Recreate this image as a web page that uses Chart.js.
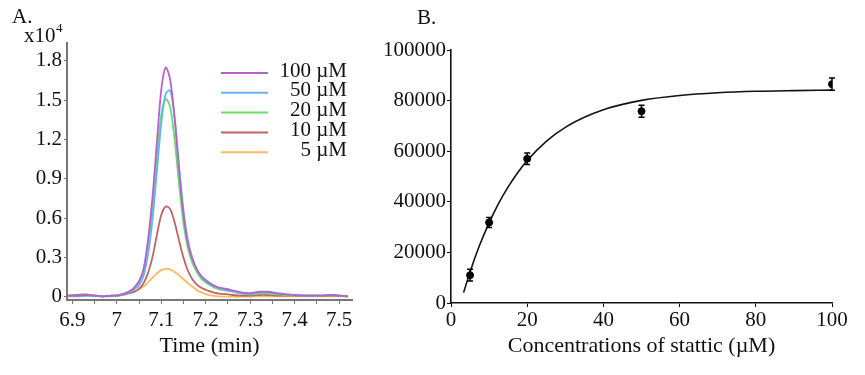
<!DOCTYPE html>
<html>
<head>
<meta charset="utf-8">
<script src="https://cdn.jsdelivr.net/npm/chart.js@4.4.1/dist/chart.umd.min.js"></script>
<style>
    html, body { margin: 0; padding: 0; background: #fff; }
    #wrap { position: relative; width: 865px; height: 375px; }
    #chartA { position: absolute; left: 0; top: 0; }
    #chartB { position: absolute; left: 375px; top: 0; }
</style>
</head>
<body>
<div id="wrap">
    <canvas id="chartA" width="375" height="375"></canvas>
    <canvas id="chartB" width="490" height="375"></canvas>
</div>
<script>
// ---- Panel A: chromatograms, intensity in x10^4 ----
const timeMin = [6.89, 6.91, 6.93, 6.95, 6.97, 6.99,
    7.00, 7.01, 7.02, 7.03, 7.04, 7.05, 7.06, 7.07, 7.08, 7.09, 7.10, 7.11, 7.12, 7.13,
    7.14, 7.15, 7.16, 7.17, 7.18, 7.19, 7.20, 7.21, 7.22, 7.23, 7.24, 7.25, 7.26,
    7.28, 7.30, 7.32, 7.34, 7.36, 7.38, 7.40, 7.42, 7.44, 7.46, 7.48, 7.50, 7.52];

const concLabels = ['100 µM', '50 µM', '20 µM', '10 µM', '5 µM'];

const int100 = [0.010, 0.010, 0.015, 0.010, 0.005, 0.010,
    0.010, 0.020, 0.030, 0.045, 0.075, 0.120, 0.210, 0.430, 0.750, 1.170, 1.580, 1.750, 1.660, 1.360,
    0.970, 0.630, 0.410, 0.290, 0.210, 0.160, 0.130, 0.105, 0.085, 0.072, 0.066, 0.060, 0.050,
    0.035, 0.030, 0.040, 0.040, 0.030, 0.020, 0.015, 0.010, 0.010, 0.010, 0.015, 0.010, 0.005];
const int50 = [0.005, 0.005, 0.010, 0.010, 0.005, 0.005,
    0.010, 0.015, 0.025, 0.035, 0.060, 0.090, 0.160, 0.320, 0.580, 0.950, 1.320, 1.550, 1.575, 1.380,
    1.000, 0.660, 0.430, 0.300, 0.210, 0.155, 0.120, 0.095, 0.080, 0.067, 0.060, 0.050, 0.045,
    0.030, 0.025, 0.035, 0.035, 0.025, 0.020, 0.015, 0.010, 0.010, 0.010, 0.015, 0.010, 0.005];
const int20 = [0.010, 0.010, 0.010, 0.010, 0.005, 0.010,
    0.010, 0.020, 0.030, 0.045, 0.070, 0.115, 0.200, 0.390, 0.670, 1.040, 1.390, 1.510, 1.450, 1.200,
    0.860, 0.560, 0.370, 0.260, 0.190, 0.140, 0.110, 0.090, 0.070, 0.058, 0.052, 0.046, 0.040,
    0.025, 0.020, 0.025, 0.025, 0.020, 0.015, 0.010, 0.010, 0.010, 0.010, 0.015, 0.010, 0.005];
const int10 = [0.010, 0.015, 0.020, 0.010, 0.005, 0.010,
    0.010, 0.015, 0.020, 0.030, 0.040, 0.062, 0.105, 0.180, 0.300, 0.470, 0.625, 0.690, 0.670, 0.570,
    0.430, 0.300, 0.200, 0.135, 0.095, 0.070, 0.055, 0.042, 0.032, 0.026, 0.022, 0.020, 0.015,
    0.010, 0.010, 0.015, 0.015, 0.010, 0.010, 0.010, 0.010, 0.010, 0.010, 0.010, 0.010, 0.005];
const int5 = [0.010, 0.010, 0.010, 0.010, 0.005, 0.010,
    0.012, 0.017, 0.024, 0.033, 0.045, 0.060, 0.080, 0.110, 0.145, 0.180, 0.205, 0.215, 0.210, 0.190,
    0.165, 0.135, 0.105, 0.078, 0.054, 0.035, 0.022, 0.013, 0.008, 0.005, 0.003, 0.002, 0.002,
    0.002, 0.003, 0.005, 0.005, 0.005, 0.005, 0.005, 0.005, 0.005, 0.005, 0.005, 0.005, 0.005];

const seriesA = [int100, int50, int20, int10, int5];
const colorsA = ['#b464c8', '#64b4fa', '#6cdc6c', '#be6464', '#ffb964'];

// ---- Panel B: peak area vs stattic concentration ----
const concUM = [5, 10, 20, 50, 100];
const peakArea = [11000, 31800, 57000, 75800, 86500];
const peakAreaSD = [2300, 2000, 2300, 2400, 2400];

// fitted saturation curve
const fitConc = [3.3, 5, 7.5, 10, 12.5, 15, 17.5, 20, 25, 30, 35, 40, 45, 50, 60, 70, 80, 90, 100];
const fitArea = [4100, 12300, 22800, 31700, 39400, 45900, 51500, 56300, 63900, 69400, 73400,
    76400, 78500, 80100, 82000, 83100, 83700, 83960, 84130];

const serif = '"Liberation Serif", "Times New Roman", serif';
Chart.defaults.font.family = serif;
Chart.defaults.font.size = 21;
Chart.defaults.color = '#111';

function toXY(xs, ys) {
    return xs.map((x, i) => ({ x: x, y: ys[i] }));
}

// legend with right-aligned labels, like the original figure
const legendA = {
    id: 'legendA',
    afterDraw(chart) {
        const ctx = chart.ctx;
        ctx.save();
        ctx.font = '21px ' + serif;
        ctx.textAlign = 'right';
        ctx.textBaseline = 'middle';
        chart.data.datasets.forEach((ds, i) => {
            const y = 73 + i * 19.8;
            ctx.strokeStyle = ds.borderColor;
            ctx.lineWidth = 2;
            ctx.beginPath();
            ctx.moveTo(221, y);
            ctx.lineTo(268, y);
            ctx.stroke();
            ctx.fillStyle = '#111';
            ctx.fillText(ds.label, 347, y - 2);
        });
        ctx.restore();
    }
};

const labelsA = {
    id: 'labelsA',
    afterDraw(chart) {
        const ctx = chart.ctx;
        ctx.save();
        ctx.fillStyle = '#111';
        ctx.textBaseline = 'middle';
        ctx.textAlign = 'left';
        ctx.font = '21px ' + serif;
        ctx.fillText('A.', 12, 17);
        ctx.fillText('x10', 24, 36);
        ctx.font = '13px ' + serif;
        ctx.fillText('4', 56, 29);
        ctx.restore();
    }
};

const labelsB = {
    id: 'labelsB',
    afterDraw(chart) {
        const ctx = chart.ctx;
        ctx.save();
        ctx.fillStyle = '#111';
        ctx.textBaseline = 'middle';
        ctx.font = '21px ' + serif;
        ctx.fillText('B.', 42, 18);
        ctx.restore();
    }
};

// error bars drawn through the chart's own scales
const errorBars = {
    id: 'errorBars',
    afterDatasetsDraw(chart) {
        const ctx = chart.ctx;
        const xs = chart.scales.x;
        const ys = chart.scales.y;
        ctx.save();
        ctx.strokeStyle = '#000';
        ctx.lineWidth = 1.5;
        concUM.forEach((c, i) => {
            const px = xs.getPixelForValue(c);
            const top = ys.getPixelForValue(peakArea[i] + peakAreaSD[i]);
            const bot = ys.getPixelForValue(peakArea[i] - peakAreaSD[i]);
            ctx.beginPath();
            ctx.moveTo(px, top);
            ctx.lineTo(px, bot);
            ctx.moveTo(px - 3, top);
            ctx.lineTo(px + 3, top);
            ctx.moveTo(px - 3, bot);
            ctx.lineTo(px + 3, bot);
            ctx.stroke();
        });
        ctx.restore();
    }
};

new Chart(document.getElementById('chartA'), {
    type: 'line',
    data: {
        datasets: seriesA.map((vals, i) => ({
            label: concLabels[i],
            data: toXY(timeMin, vals),
            borderColor: colorsA[i],
            backgroundColor: colorsA[i],
            borderWidth: 1.8,
            pointRadius: 0,
            tension: 0.3,
            fill: false
        }))
    },
    options: {
        responsive: false,
        animation: false,
        layout: { padding: { left: 0, right: 23, top: 43, bottom: 0 } },
        plugins: { legend: { display: false }, tooltip: { enabled: false } },
        scales: {
            x: {
                type: 'linear',
                min: 6.888,
                max: 7.529,
                afterFit: s => { s.height = 75; },
                border: { display: true, color: '#777', width: 2 },
                grid: { display: true, drawOnChartArea: false, drawTicks: true, tickLength: 4, color: '#777' },
                ticks: {
                    stepSize: 0.05,
                    includeBounds: false,
                    autoSkip: false,
                    maxRotation: 0,
                    padding: 4,
                    callback: v => Math.abs(v * 10 - Math.round(v * 10)) < 1e-6 ? String(Math.round(v * 10) / 10) : ''
                },
                title: { display: true, text: 'Time (min)', font: { size: 22 }, padding: { top: 0, bottom: 16 } }
            },
            y: {
                type: 'linear',
                min: -0.023,
                max: 1.937,
                afterFit: s => { s.width = 67; },
                border: { display: true, color: '#777', width: 2 },
                grid: { display: true, drawOnChartArea: false, drawTicks: true, tickLength: 3, color: '#777' },
                ticks: {
                    stepSize: 0.3,
                    includeBounds: false,
                    padding: 2,
                    callback: v => String(Math.round(v * 10) / 10)
                }
            }
        }
    },
    plugins: [legendA, labelsA]
});

new Chart(document.getElementById('chartB'), {
    type: 'scatter',
    data: {
        datasets: [
            {
                label: 'mean',
                data: toXY(concUM, peakArea),
                pointStyle: 'circle',
                pointRadius: 3.5,
                backgroundColor: '#000',
                borderColor: '#000',
                showLine: false
            },
            {
                label: 'fit',
                data: toXY(fitConc, fitArea),
                borderColor: '#111',
                borderWidth: 1.6,
                pointRadius: 0,
                showLine: true,
                cubicInterpolationMode: 'monotone'
            }
        ]
    },
    options: {
        responsive: false,
        animation: false,
        layout: { padding: { left: 0, right: 33, top: 50, bottom: 0 } },
        plugins: { legend: { display: false }, tooltip: { enabled: false } },
        scales: {
            x: {
                type: 'linear',
                min: 0,
                max: 100,
                afterFit: s => { s.height = 72; },
                border: { display: true, color: '#111', width: 1.6 },
                grid: { display: true, drawOnChartArea: false, drawTicks: true, tickLength: 4, color: '#111' },
                ticks: { stepSize: 20, maxRotation: 0, padding: 1 },
                title: { display: true, text: 'Concentrations of stattic (µM)', font: { size: 22 }, padding: { top: 0, bottom: 16 } }
            },
            y: {
                type: 'linear',
                min: 0,
                max: 100000,
                afterFit: s => { s.width = 76; },
                border: { display: true, color: '#111', width: 1.6 },
                grid: { display: true, drawOnChartArea: false, drawTicks: true, tickLength: 4, color: '#111' },
                ticks: { stepSize: 20000, padding: 1, callback: v => String(v) }
            }
        }
    },
    plugins: [errorBars, labelsB]
});
</script>
</body>
</html>
